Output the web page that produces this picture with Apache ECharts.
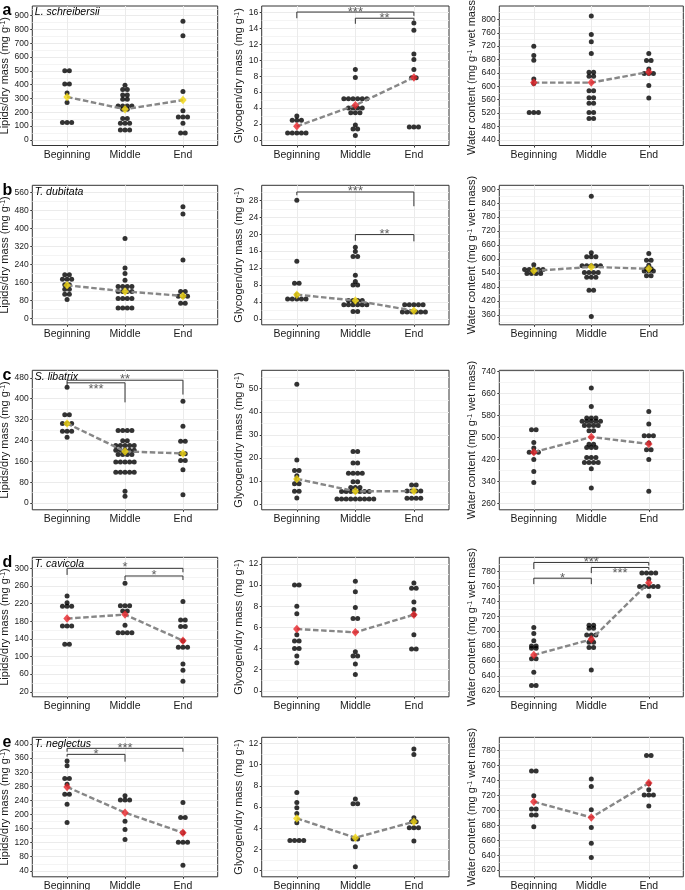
<!DOCTYPE html>
<html>
<head>
<meta charset="utf-8">
<script src="https://cdn.jsdelivr.net/npm/echarts@6/dist/echarts.min.js"></script>
<style>
  html, body { margin: 0; padding: 0; background: #fff; }
  #chart { width: 685px; height: 890px; }
</style>
</head>
<body>
<div id="chart"></div>
<script>
const categories = ['Beginning', 'Middle', 'End'];
const letters = ['a', 'b', 'c', 'd', 'e'];
const species = ['L. schreibersii', 'T. dubitata', 'S. libatrix', 'T. cavicola', 'T. neglectus'];

// row a - L. schreibersii
const aLip = [
  [500, 500, 405, 405, 340, 270, 125, 125, 125],
  [395, 365, 365, 325, 325, 295, 295, 245, 245, 245, 245, 222, 222, 155, 155, 120, 120, 120, 72, 72, 72],
  [860, 755, 350, 210, 165, 165, 165, 120, 50, 50]
];
const aLipMean = [311, 222, 288];
const aGly = [
  [3.0, 2.45, 2.45, 2.45, 0.85, 0.85, 0.85, 0.85, 0.85],
  [8.85, 7.85, 5.15, 5.15, 5.15, 5.15, 5.15, 5.15, 4.0, 4.0, 4.0, 4.0, 3.4, 3.4, 3.4, 1.85, 1.35, 1.35, 0.55],
  [14.7, 13.8, 10.8, 10.1, 8.85, 7.8, 7.8, 1.6, 1.6, 1.6]
];
const aGlyMean = [1.7, 4.35, 7.85];
const aWat = [
  [720, 692, 678, 622, 608, 522, 522, 522],
  [810, 755, 733, 698, 642, 642, 630, 630, 587, 587, 566, 566, 549, 549, 522, 522, 504, 504],
  [698, 677, 677, 652, 638, 638, 638, 602, 565]
];
const aWatMean = [611, 611, 643];

// row b - T. dubitata
const bLip = [
  [195, 195, 175, 175, 175, 150, 150, 130, 130, 108, 108, 85],
  [355, 225, 200, 170, 143, 143, 143, 143, 121, 121, 121, 121, 89, 89, 89, 89, 47, 47, 47, 47],
  [496, 464, 260, 121, 121, 99, 99, 99, 69, 69]
];
const bLipMean = [148, 121, 101];
const bGly = [
  [28, 13.6, 8.4, 8.4, 5.7, 4.65, 4.65, 4.65, 4.65, 4.65],
  [16.9, 15.9, 14.7, 14.7, 10.3, 8.8, 8.0, 8.0, 4.3, 4.3, 4.3, 4.3, 3.3, 3.3, 3.3, 3.3, 3.3, 3.3, 1.7, 1.7],
  [3.3, 3.3, 3.3, 3.3, 3.3, 1.6, 1.6, 1.6, 1.6, 1.6, 1.6]
];
const bGlyMean = [5.7, 4.3, 1.9];
const bWat = [
  [575, 555, 555, 555, 555, 555, 538, 538, 538, 538],
  [870, 627, 610, 610, 610, 571, 571, 571, 571, 571, 542, 542, 542, 542, 522, 522, 522, 466, 466, 353],
  [624, 595, 595, 573, 558, 558, 548, 548, 548, 528, 528]
];
const bWatMean = [549, 566, 558];

// row c - S. libatrix
const cLip = [
  [444, 339, 339, 305, 305, 305, 275, 275, 275, 252],
  [278, 278, 278, 278, 239, 239, 221, 221, 221, 221, 221, 202, 202, 202, 202, 202, 186, 186, 186, 186,
   157, 157, 157, 157, 157, 118, 118, 118, 118, 118, 45, 26],
  [390, 294, 237, 237, 189, 189, 163, 163, 128, 32]
];
const cLipMean = [305, 198, 190];
const cGly = [
  [52, 19.1, 14.5, 14.5, 12.3, 10.8, 8.8, 8.8, 5.5, 5.5, 2.6],
  [22.8, 22.8, 17.8, 17.8, 13.3, 13.3, 13.3, 13.3, 9.7, 9.7, 7.2, 7.2, 7.2, 5.4, 5.4, 5.4, 5.4, 5.4, 5.4, 5.4,
   2.2, 2.2, 2.2, 2.2, 2.2, 2.2, 2.2, 2.2, 2.2],
  [8.3, 8.3, 5.6, 5.6, 5.6, 5.6, 2.5, 2.5, 2.5, 2.5]
];
const cGlyMean = [10.9, 5.5, 5.6];
const cWat = [
  [528, 528, 482, 462, 447, 447, 447, 420, 377, 337],
  [680, 613, 571, 571, 571, 559, 559, 559, 559, 559, 544, 544, 544, 544, 525, 525, 476, 476, 464, 464, 464,
   428, 428, 428, 410, 410, 410, 410, 387, 317],
  [595, 549, 507, 507, 507, 480, 456, 456, 420, 305]
];
const cWatMean = [447, 502, 477];

// row d - T. cavicola
const dLip = [
  [237, 222, 214, 214, 214, 169, 169, 169, 128, 128],
  [266, 215, 215, 215, 203, 203, 171, 154, 154, 154, 154],
  [225, 183, 183, 168, 168, 136, 121, 121, 121, 83, 69, 44]
];
const dLipMean = [186, 195, 136];
const dGly = [
  [10, 10, 8.0, 7.3, 5.3, 4.7, 4.7, 4.0, 4.0, 3.3, 2.65],
  [10.36, 9.38, 7.89, 6.85, 6.85, 3.69, 3.28, 3.28, 2.53, 1.55],
  [10.2, 9.7, 9.7, 8.4, 7.7, 7.2, 5.3, 3.95, 3.95]
];
const dGlyMean = [5.84, 5.53, 7.2];
const dWat = [
  [705, 697, 687, 680, 680, 677, 677, 663, 663, 645, 627, 627],
  [708, 708, 704, 704, 695, 695, 695, 689, 685, 685, 678, 678, 648],
  [778, 778, 778, 778, 770, 760, 760, 760, 760, 760, 747]
];
const dWatMean = [668, 689, 765];

// row e - T. neglectus
const eLip = [
  [352, 338, 302, 302, 286, 257, 257, 229, 177],
  [253, 241, 241, 241, 181, 157, 129],
  [234, 191, 191, 148, 121, 121, 121, 56]
];
const eLipMean = [278, 205, 148];
const eGly = [
  [7.38, 6.44, 5.94, 5.40, 4.52, 2.86, 2.86, 2.86, 2.86],
  [6.75, 6.3, 6.3, 3.0, 3.0, 2.26, 0.38],
  [11.47, 10.96, 5.0, 4.62, 4.62, 4.05, 4.05, 4.05, 2.8]
];
const eGlyMean = [4.93, 3.11, 4.62];
const eWat = [
  [752.7, 752.7, 719.7, 701.8, 701.8, 693.7, 693.7, 678.1],
  [742, 732, 701, 677, 656, 637],
  [773.7, 773.7, 735.8, 727.7, 720.6, 720.6, 720.6, 705.8]
];
const eWatMean = [711.6, 690.6, 736.6];

// y ranges and tick labels
const aLipRange = [-41, 970], aLipTicks = [0, 100, 200, 300, 400, 500, 600, 700, 800, 900];
const aGlyRange = [-0.72, 16.84], aGlyTicks = [0, 2, 4, 6, 8, 10, 12, 14, 16];
const aWatRange = [423, 840], aWatTicks = [440, 480, 520, 560, 600, 640, 680, 720, 760, 800];
const bLipRange = [-27, 591], bLipTicks = [0, 80, 160, 240, 320, 400, 480, 560];
const bGlyRange = [-1.42, 31.55], bGlyTicks = [0, 4, 8, 12, 16, 20, 24, 28];
const bWatRange = [317, 917], bWatTicks = [360, 420, 480, 540, 600, 660, 720, 780, 840, 900];
const cLipRange = [-26, 509], cLipTicks = [0, 80, 160, 240, 320, 400, 480];
const cGlyRange = [-2.5, 58], cGlyTicks = [0, 10, 20, 30, 40, 50];
const cWatRange = [238, 744], cWatTicks = [260, 340, 420, 500, 580, 660, 740];
const dLipRange = [8.6, 325], dLipTicks = [20, 60, 100, 140, 180, 220, 260, 300];
const dGlyRange = [-0.57, 12.63], dGlyTicks = [0, 2, 4, 6, 8, 10, 12];
const dWatRange = [612, 799], dWatTicks = [620, 640, 660, 680, 700, 720, 740, 760, 780];
const eLipRange = [23, 419], eLipTicks = [40, 80, 120, 160, 200, 240, 280, 320, 360, 400];
const eGlyRange = [-0.57, 12.57], eGlyTicks = [0, 2, 4, 6, 8, 10, 12];
const eWatRange = [611, 798], eWatTicks = [620, 640, 660, 680, 700, 720, 740, 760, 780];

// significance brackets: [from, to, height, left tip, right tip, label, label height]
const aGlyBrackets = [[1, 3, 16.08, 15.3, 15.6, '***', 16.45], [2, 3, 15.3, 14.6, 15.0, '**', 15.7]];
const bGlyBrackets = [[1, 3, 29.97, 29.2, 26.6, '***', 30.7], [2, 3, 19.9, 18.45, 18.3, '**', 20.7]];
const cLipBrackets = [[1, 3, 471, 460, 416, '**', 484], [1, 2, 461, 452, 386, '***', 447]];
const dLipBrackets = [[1, 3, 300, 285, 291, '*', 308], [2, 3, 282.6, 273.5, 273.5, '*', 291]];
const dWatBrackets = [[1, 3, 792.1, 783.2, 788, '***', 795.7], [2, 3, 785.4, 777.8, 782.3, '***', 781.4],
                      [1, 2, 771, 763, 763, '*', 775]];
const eLipBrackets = [[1, 3, 387.7, 378, 378, '***', 397], [1, 2, 370.6, 364, 349.8, '*', 378]];

const RED = '#E8262A';
const YELLOW = '#F2D70F';
const FONT = '"Liberation Sans", Arial, Helvetica, sans-serif';

const panels = [
  { r: 0, c: 0, groups: aLip, mean: aLipMean, color: YELLOW, range: aLipRange, ticks: aLipTicks, br: [] },
  { r: 0, c: 1, groups: aGly, mean: aGlyMean, color: RED, range: aGlyRange, ticks: aGlyTicks, br: aGlyBrackets },
  { r: 0, c: 2, groups: aWat, mean: aWatMean, color: RED, range: aWatRange, ticks: aWatTicks, br: [] },
  { r: 1, c: 0, groups: bLip, mean: bLipMean, color: YELLOW, range: bLipRange, ticks: bLipTicks, br: [] },
  { r: 1, c: 1, groups: bGly, mean: bGlyMean, color: YELLOW, range: bGlyRange, ticks: bGlyTicks, br: bGlyBrackets },
  { r: 1, c: 2, groups: bWat, mean: bWatMean, color: YELLOW, range: bWatRange, ticks: bWatTicks, br: [] },
  { r: 2, c: 0, groups: cLip, mean: cLipMean, color: YELLOW, range: cLipRange, ticks: cLipTicks, br: cLipBrackets },
  { r: 2, c: 1, groups: cGly, mean: cGlyMean, color: YELLOW, range: cGlyRange, ticks: cGlyTicks, br: [] },
  { r: 2, c: 2, groups: cWat, mean: cWatMean, color: RED, range: cWatRange, ticks: cWatTicks, br: [] },
  { r: 3, c: 0, groups: dLip, mean: dLipMean, color: RED, range: dLipRange, ticks: dLipTicks, br: dLipBrackets },
  { r: 3, c: 1, groups: dGly, mean: dGlyMean, color: RED, range: dGlyRange, ticks: dGlyTicks, br: [] },
  { r: 3, c: 2, groups: dWat, mean: dWatMean, color: RED, range: dWatRange, ticks: dWatTicks, br: dWatBrackets },
  { r: 4, c: 0, groups: eLip, mean: eLipMean, color: RED, range: eLipRange, ticks: eLipTicks, br: eLipBrackets },
  { r: 4, c: 1, groups: eGly, mean: eGlyMean, color: YELLOW, range: eGlyRange, ticks: eGlyTicks, br: [] },
  { r: 4, c: 2, groups: eWat, mean: eWatMean, color: RED, range: eWatRange, ticks: eWatTicks, br: [] }
];

const yNames = [
  'Lipids/dry mass (mg g{sup|-1})',
  'Glycogen/dry mass (mg g{sup|-1})',
  'Water content (mg g{sup|-1} wet mass)'
];
const nameGaps = [14, 10, 17];

// layout
const colLeft = [32.3, 261.7, 499.3];
const colWidth = [185.4, 187.3, 184];
const rowTop = [6, 185.3, 370.3, 557.3, 737.3];
const plotH = 139.5;
const DOT_STEP = 4.6;

// minor grid lines halfway between major ticks, inside the range
function minorBreaks(ticks, range) {
  const step = ticks[1] - ticks[0];
  const out = [];
  for (let v = ticks[0] - step / 2; v <= ticks[ticks.length - 1] + step / 2 + 1e-9; v += step) {
    if (v > range[0] && v < range[1]) out.push(+v.toFixed(6));
  }
  return out;
}

// dots with equal values sit side by side around the category
function dotItems(groups, pxPerUnit) {
  const items = [];
  groups.forEach((vals, ci) => {
    const counts = new Map();
    vals.forEach(v => counts.set(v, (counts.get(v) || 0) + 1));
    counts.forEach((n, v) => {
      for (let k = 0; k < n; k++) {
        const off = (k - (n - 1) / 2) * DOT_STEP / pxPerUnit;
        items.push([ci + 1 + off, v]);
      }
    });
  });
  return items;
}

const grid = [], xAxis = [], yAxis = [], series = [], graphic = [];

panels.forEach((p, i) => {
  const left = colLeft[p.c], top = rowTop[p.r], width = colWidth[p.c];
  grid.push({
    left, top, width, height: plotH,
    show: true, borderColor: '#333', borderWidth: 1, backgroundColor: '#fff',
    containLabel: false, outerBoundsMode: 'none'
  });
  xAxis.push({
    type: 'value', gridIndex: i, min: 0.4, max: 3.6,
    axisLine: { show: false, onZero: false },
    axisTick: { show: true, length: 2, customValues: [1, 2, 3], lineStyle: { color: '#333' } },
    axisLabel: {
      customValues: [1, 2, 3], formatter: v => categories[Math.round(v) - 1],
      fontSize: 10.5, color: '#1a1a1a', margin: 4, fontFamily: FONT
    },
    splitLine: { show: true, lineStyle: { color: '#EBEBEB', width: 1 } }
  });
  yAxis.push({
    type: 'value', gridIndex: i, min: p.range[0], max: p.range[1], position: 'left',
    name: yNames[p.c], nameLocation: 'middle', nameGap: nameGaps[p.c],
    nameTextStyle: {
      fontSize: 11, color: '#1a1a1a', fontFamily: FONT,
      rich: { sup: { fontSize: 7, verticalAlign: 'top', color: '#1a1a1a', fontFamily: FONT } }
    },
    axisLine: { show: false, onZero: false },
    axisTick: { show: true, length: 2, customValues: p.ticks, lineStyle: { color: '#333' } },
    axisLabel: { customValues: p.ticks, fontSize: 8.5, color: '#1a1a1a', margin: 3.5, fontFamily: FONT },
    splitLine: { show: true, lineStyle: { color: '#EBEBEB', width: 1 } }
  });
  yAxis.push({
    type: 'value', gridIndex: i, min: p.range[0], max: p.range[1], position: 'right',
    axisLine: { show: false, onZero: false },
    axisTick: { show: false, customValues: minorBreaks(p.ticks, p.range) },
    axisLabel: { show: false },
    splitLine: { show: true, lineStyle: { color: '#F1F1F1', width: 0.8 } }
  });
  const yi = 2 * i;

  series.push({
    type: 'scatter', xAxisIndex: i, yAxisIndex: yi, z: 2,
    symbol: 'circle', symbolSize: 5, itemStyle: { color: '#000' },
    data: dotItems(p.groups, width / 3.2)
  });
  series.push({
    type: 'line', xAxisIndex: i, yAxisIndex: yi, z: 3, symbol: 'none',
    lineStyle: { color: '#878787', width: 2.4, type: [5.5, 2.6] },
    data: p.mean.map((m, k) => [k + 1, m])
  });
  series.push({
    type: 'scatter', xAxisIndex: i, yAxisIndex: yi, z: 4,
    symbol: 'diamond', symbolSize: [7.5, 8.5], itemStyle: { color: p.color },
    data: p.mean.map((m, k) => [k + 1, m])
  });
  p.br.forEach(b => {
    series.push({
      type: 'line', xAxisIndex: i, yAxisIndex: yi, z: 5, symbol: 'none', clip: false,
      lineStyle: { color: '#333', width: 1 },
      data: [[b[0], b[3]], [b[0], b[2]], [b[1], b[2]], [b[1], b[4]]]
    });
    series.push({
      type: 'scatter', xAxisIndex: i, yAxisIndex: yi, z: 5, symbolSize: 1,
      itemStyle: { color: 'transparent' },
      label: {
        show: true, position: 'inside', formatter: b[5], color: '#333',
        fontSize: 13, fontFamily: FONT, offset: [0, 3]
      },
      data: [[(b[0] + b[1]) / 2, b[6]]]
    });
  });
});

rowTop.forEach((t, r) => {
  graphic.push({
    type: 'text', left: 2.5, top: t - 3, z: 100,
    style: { text: letters[r], font: 'bold 16px ' + FONT, fill: '#000' }
  });
  graphic.push({
    type: 'text', left: colLeft[0] + 2.5, top: t + 1, z: 100,
    style: { text: species[r], font: 'italic 10.5px ' + FONT, fill: '#000' }
  });
});

const chart = echarts.init(document.getElementById('chart'), null, { renderer: 'canvas' });
chart.setOption({
  animation: false,
  backgroundColor: '#fff',
  textStyle: { fontFamily: FONT },
  grid, xAxis, yAxis, series, graphic
});
</script>
</body>
</html>
